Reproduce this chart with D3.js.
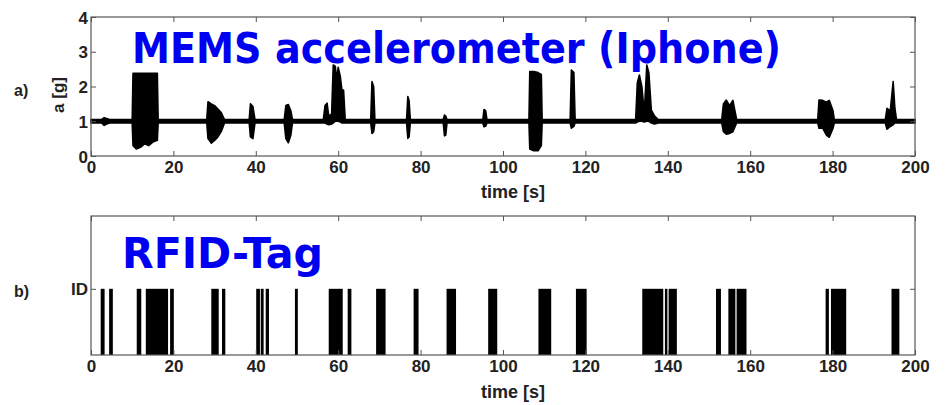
<!DOCTYPE html>
<html>
<head>
<meta charset="utf-8">
<script src="https://cdn.jsdelivr.net/npm/d3@7"></script>
<style>
  html, body { margin: 0; padding: 0; background: #fff; }
  svg { display: block; }
  .tick text { font-family: "Liberation Sans", Arial, sans-serif; font-weight: bold; font-size: 17px; fill: #222; }
  .tick line { stroke: #555; stroke-width: 1; }
  .lbl { font-family: "Liberation Sans", Arial, sans-serif; font-weight: bold; fill: #222; }
  .big { font-family: "DejaVu Sans", Verdana, sans-serif; font-weight: bold; font-size: 42px; fill: #0000f0; }
</style>
</head>
<body>
<svg id="chart" width="952" height="405"></svg>
<script>
// Acceleration trace, recorded as an envelope: time [s], upper and lower value [g]
const traceTime = [0, 2.6, 3.2, 3.8, 4.5, 10.0, 10.2, 11.0, 12.0, 13.0, 14.0, 15.0, 16.1, 16.3,
  28.1, 28.4, 29.2, 30.0, 30.8, 31.6, 32.4, 38.4, 38.7, 39.3, 39.8, 46.9, 47.3, 47.9, 48.5, 48.9,
  56.4, 56.8, 57.3, 57.7, 58.4, 58.8, 59.3, 59.6, 60.0, 60.5, 60.9, 61.3, 61.7,
  67.9, 68.2, 68.6, 68.9, 76.6, 76.9, 77.2, 77.5, 85.5, 85.8, 86.1, 86.4, 95.1, 95.4, 95.8, 96.1,
  106.3, 106.5, 107.5, 108.5, 109.3, 109.5, 116.3, 116.6, 117.2, 117.5,
  132.2, 132.6, 133.1, 133.7, 134.3, 134.9, 135.4, 136.0, 136.8, 137.7,
  153.1, 153.5, 154.2, 155.0, 155.8, 156.7, 176.4, 176.7, 177.6, 178.5, 179.2, 180.1, 180.4,
  192.8, 193.2, 194.0, 194.7, 195.1, 195.5, 200];
const traceHigh = [1.05, 1.05, 1.1, 1.08, 1.05, 1.05, 2.38, 2.38, 2.38, 2.38, 2.38, 2.38, 2.38, 1.05,
  1.05, 1.56, 1.5, 1.45, 1.35, 1.25, 1.05, 1.05, 1.5, 1.42, 1.05, 1.05, 1.45, 1.48, 1.3, 1.05,
  1.05, 1.45, 1.52, 1.15, 1.2, 2.62, 2.58, 2.2, 2.55, 2.3, 1.9, 1.9, 1.05,
  1.05, 2.14, 2.0, 1.05, 1.05, 1.71, 1.6, 1.05, 1.05, 1.18, 1.15, 1.05, 1.05, 1.34, 1.3, 1.05,
  1.05, 2.43, 2.43, 2.4, 2.35, 1.05, 1.05, 2.47, 2.4, 1.05,
  1.05, 2.1, 2.33, 2.0, 1.24, 2.62, 2.4, 1.32, 1.15, 1.05,
  1.05, 1.5, 1.61, 1.45, 1.6, 1.05, 1.05, 1.61, 1.6, 1.55, 1.6, 1.3, 1.05,
  1.05, 1.37, 1.3, 2.14, 1.4, 1.05, 1.05];
const traceLow = [0.95, 0.95, 0.88, 0.92, 0.95, 0.95, 0.3, 0.2, 0.25, 0.35, 0.3, 0.4, 0.45, 0.95,
  0.95, 0.5, 0.37, 0.45, 0.55, 0.7, 0.95, 0.95, 0.55, 0.5, 0.95, 0.95, 0.5, 0.38, 0.6, 0.95,
  0.95, 0.95, 0.92, 0.9, 0.92, 0.95, 1.0, 1.0, 1.0, 0.98, 0.95, 0.95, 0.95,
  0.95, 0.65, 0.7, 0.95, 0.95, 0.51, 0.55, 0.95, 0.95, 0.58, 0.6, 0.95, 0.95, 0.84, 0.86, 0.95,
  0.95, 0.2, 0.15, 0.15, 0.3, 0.95, 0.95, 0.8, 0.85, 0.95,
  0.95, 0.98, 1.0, 1.0, 0.98, 1.0, 1.0, 0.95, 0.92, 0.95,
  0.95, 0.7, 0.63, 0.65, 0.7, 0.95, 0.95, 0.8, 0.8, 0.6, 0.54, 0.8, 0.95,
  0.95, 0.77, 0.85, 0.9, 0.95, 0.95, 0.95];

// RFID tag readings: start and end time [s] of each detection
const tagStart = [2.35, 4.4, 11.1, 13.3, 19.2, 29.2, 31.8, 40.1, 41.2, 42.4, 49.5,
  57.7, 62.3, 69.2, 78.3, 86.3, 96.4, 108.6, 117.7, 133.8, 139.3, 140.2,
  151.7, 154.7, 156.7, 178.3, 179.6, 194.3];
const tagEnd = [3.3, 5.3, 12.2, 18.7, 20.1, 31.0, 32.6, 41.0, 41.9, 43.2, 50.2,
  61.1, 63.2, 71.5, 79.5, 88.6, 98.6, 111.7, 120.3, 138.9, 139.9, 142.2,
  152.9, 156.4, 159.1, 179.1, 183.3, 196.2];

const timeTicks = [0, 20, 40, 60, 80, 100, 120, 140, 160, 180, 200];
const accelTicks = [0, 1, 2, 3, 4];
const tagLevel = 1;

const svg = d3.select("#chart");

const x = d3.scaleLinear().domain([0, 200]).range([91, 915]);
const yA = d3.scaleLinear().domain([0, 4]).range([156, 17]);
const yB = d3.scaleLinear().domain([0, 2.1]).range([355, 216]);

function frame(y) {
  const [y0, y1] = y.range();
  svg.append("rect")
    .attr("x", x.range()[0]).attr("y", y1)
    .attr("width", x.range()[1] - x.range()[0]).attr("height", y0 - y1)
    .attr("fill", "none").attr("stroke", "#555").attr("stroke-width", 1.2);
}

function axes(y, yTicks, yFormat) {
  const [y0, y1] = y.range();
  const gb = svg.append("g").attr("transform", `translate(0,${y0})`)
    .call(d3.axisBottom(x).tickValues(timeTicks).tickSize(-5).tickSizeOuter(0).tickPadding(5));
  const gt = svg.append("g").attr("transform", `translate(0,${y1})`)
    .call(d3.axisTop(x).tickValues(timeTicks).tickSize(-5).tickSizeOuter(0).tickFormat(""));
  const gl = svg.append("g").attr("transform", `translate(${x.range()[0]},0)`)
    .call(d3.axisLeft(y).tickValues(yTicks).tickSize(-5).tickSizeOuter(0).tickPadding(3).tickFormat(yFormat));
  const gr = svg.append("g").attr("transform", `translate(${x.range()[1]},0)`)
    .call(d3.axisRight(y).tickValues(yTicks).tickSize(-5).tickSizeOuter(0).tickFormat(""));
  [gb, gt, gl, gr].forEach(g => g.select(".domain").remove());
  gl.selectAll(".tick text").attr("dy", "0.36em");
}

// ---- a) acceleration ----
const traceData = traceTime.map((t, i) => ({ t, hi: traceHigh[i], lo: traceLow[i] }));
const area = d3.area().x(d => x(d.t)).y0(d => yA(d.lo)).y1(d => yA(d.hi));
svg.append("path").datum(traceData)
  .attr("d", area).attr("fill", "#000").attr("stroke", "#000")
  .attr("stroke-width", 1.6).attr("stroke-linejoin", "round");

frame(yA);
axes(yA, accelTicks, d3.format("d"));

svg.append("text").attr("class", "lbl").attr("font-size", 17)
  .attr("text-anchor", "middle")
  .attr("transform", "translate(64,95) rotate(-90)").text("a [g]");
svg.append("text").attr("class", "lbl").attr("font-size", 16)
  .attr("x", 14).attr("y", 96).text("a)");
svg.append("text").attr("class", "lbl").attr("font-size", 18)
  .attr("x", 513).attr("y", 198).attr("text-anchor", "middle").text("time [s]");
svg.append("text").attr("class", "big").attr("x", 132).attr("y", 63)
  .attr("textLength", 649).attr("lengthAdjust", "spacingAndGlyphs")
  .text("MEMS accelerometer (Iphone)");

// ---- b) RFID tag ----
svg.selectAll("rect.tag").data(tagStart.map((s, i) => ({ s, e: tagEnd[i] })))
  .join("rect").attr("class", "tag")
  .attr("x", d => x(d.s)).attr("width", d => x(d.e) - x(d.s))
  .attr("y", yB(tagLevel)).attr("height", yB(0) - yB(tagLevel))
  .attr("fill", "#000");

frame(yB);
axes(yB, [tagLevel], () => "ID");

svg.append("text").attr("class", "lbl").attr("font-size", 16)
  .attr("x", 14).attr("y", 297).text("b)");
svg.append("text").attr("class", "lbl").attr("font-size", 18)
  .attr("x", 513).attr("y", 398).attr("text-anchor", "middle").text("time [s]");
svg.append("text").attr("class", "big").attr("x", 122).attr("y", 268)
  .attr("textLength", 201).attr("lengthAdjust", "spacingAndGlyphs")
  .text("RFID-Tag");
</script>
</body>
</html>
